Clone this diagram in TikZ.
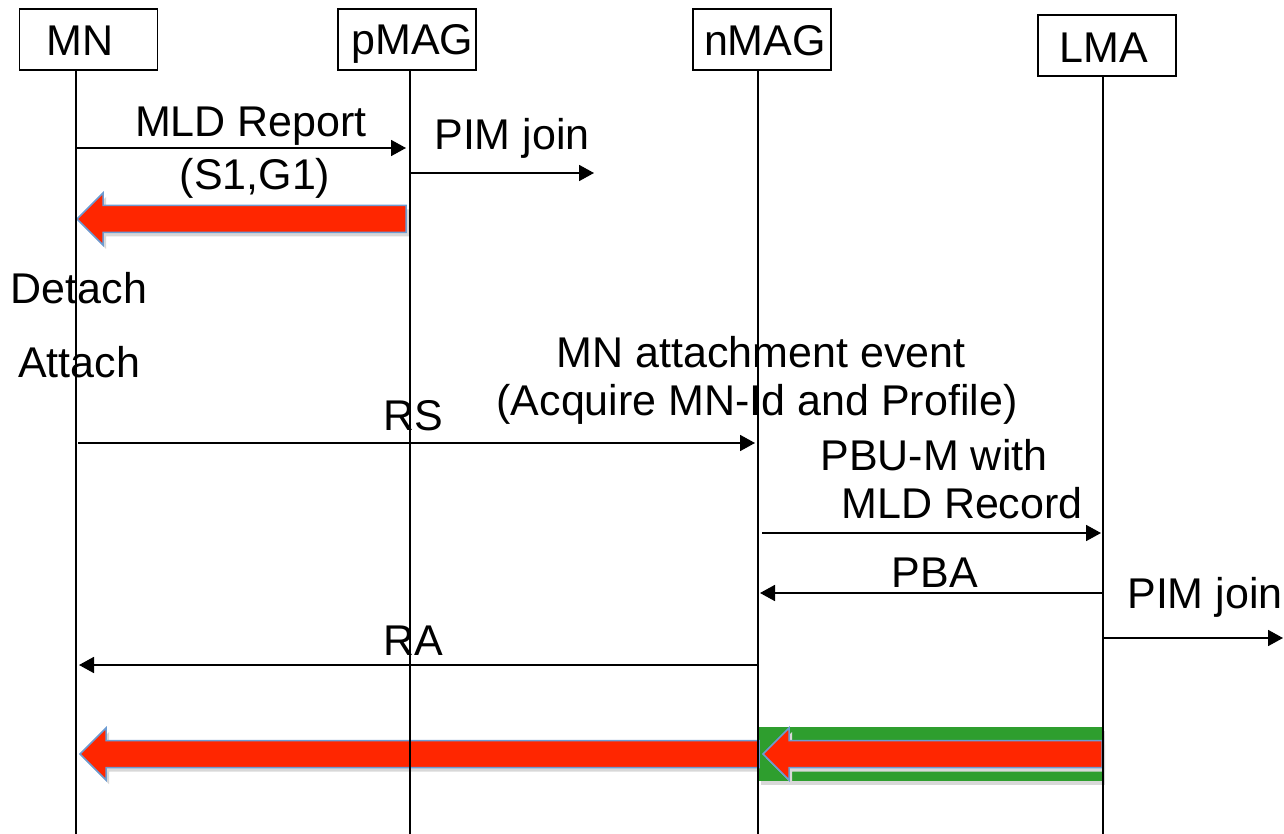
\documentclass[tikz,border=0pt]{standalone}
\usepackage{fontspec}
\setmainfont{Liberation Sans}
\usetikzlibrary{arrows.meta}
\definecolor{arrred}{RGB}{255,38,0}
\definecolor{arrblue}{RGB}{108,155,210}
\definecolor{arrgreen}{RGB}{46,158,46}
\definecolor{shadowgray}{RGB}{216,216,216}
\tikzset{
  entity/.style={draw=black, line width=1.8pt, minimum width=138pt, minimum height=61pt, inner sep=0pt},
  lbl/.style={font=\fontsize{43}{48}\selectfont, anchor=base, inner sep=0pt},
  life/.style={line width=1.4pt},
  msg/.style={line width=1.8pt, -{Triangle[length=15pt,width=16pt]}},
  fat/.style={fill=arrred, draw=arrblue, line width=1.5pt, line join=miter},
  fatshadow/.style={fill=shadowgray},
  greenband/.style={fill=arrgreen},
}
\newcommand{\FatArrowPath}[3]{({#1},{#3}) -- ({#1+26},{#3-26}) -- ({#1+26},{#3-13.5}) -- ({#2},{#3-13.5}) -- ({#2},{#3+13.5}) -- ({#1+26},{#3+13.5}) -- ({#1+26},{#3+26}) -- cycle}
\begin{document}
\begin{tikzpicture}[x=1pt,y=-1pt]
\useasboundingbox (0,0) rectangle (1284,834);

% entity boxes
\node[entity] (mnbox) at (88.5,39.5) {};
\node[entity] (pmagbox) at (407,39.5) {};
\node[entity] (nmagbox) at (762,39.5) {};
\node[entity] (lmabox) at (1107,45.5) {};
\node[lbl] (mnlbl) at (80,56) {MN};
\node[lbl] (pmaglbl) at (412.5,55) {pMAG};
\node[lbl] (nmaglbl) at (765,56) {nMAG};
\node[lbl] (lmalbl) at (1104,63) {LMA};

% big arrows (shadows, band, arrows)
\fill[fatshadow, shift={(3,4)}] \FatArrowPath{77}{406}{219};
\fill[fatshadow, shift={(3,4)}] \FatArrowPath{80}{759}{754};
\fill[shadowgray] (761,731) rectangle (1105,785);
\fill[greenband] (759,727) rectangle (1102,781);
\fill[fatshadow, shift={(3,4)}] \FatArrowPath{763}{1102}{754};
\filldraw[fat] \FatArrowPath{77}{406}{219};
\filldraw[fat] \FatArrowPath{80}{759}{754};
\filldraw[fat] \FatArrowPath{763}{1102}{754};

% lifelines
\coordinate (mnTop) at (76,70);   \coordinate (mnBot) at (76,834);
\coordinate (pmTop) at (410,70);  \coordinate (pmBot) at (410,834);
\coordinate (nmTop) at (758,70);  \coordinate (nmBot) at (758,834);
\coordinate (lmTop) at (1103,76); \coordinate (lmBot) at (1103,834);
\draw[life] (mnTop) -- (mnBot);
\draw[life] (pmTop) -- (pmBot);
\draw[life] (nmTop) -- (nmBot);
\draw[life] (lmTop) -- (lmBot);

% message end points
\coordinate (mlda) at (76,148);   \coordinate (mldb) at (406,148);
\coordinate (pim1a) at (411,173); \coordinate (pim1b) at (594,173);
\coordinate (rsa) at (78,443);    \coordinate (rsb) at (755,443);
\coordinate (pbua) at (762,533);  \coordinate (pbub) at (1101,533);
\coordinate (pbaa) at (1103,593); \coordinate (pbab) at (760,593);
\coordinate (pim2a) at (1104,638);\coordinate (pim2b) at (1283,638);
\coordinate (raa) at (758,665);   \coordinate (rab) at (79,665);

\draw[msg] (mlda) -- (mldb);
\draw[msg] (pim1a) -- (pim1b);
\draw[msg] (rsa) -- (rsb);
\draw[msg] (pbua) -- (pbub);
\draw[msg] (pbaa) -- (pbab);
\draw[msg] (pim2a) -- (pim2b);
\draw[msg] (raa) -- (rab);

% labels
\node[lbl] (t1) at (251,137) {MLD Report};
\node[lbl] (t2) at (255,190) {(S1,G1)};
\node[lbl] (t3) at (512,150) {PIM join};
\node[lbl] (t4) at (79,303) {Detach};
\node[lbl] (t5) at (79,377) {Attach};
\node[lbl] (t6) at (761,367) {MN attachment event};
\node[lbl] (t7) at (757,415) {(Acquire MN-Id and Profile)};
\node[lbl] (t8) at (413,430) {RS};
\node[lbl] (t9) at (934,470) {PBU-M with};
\node[lbl] (t10) at (962,518) {MLD Record};
\node[lbl] (t11) at (935,587) {PBA};
\node[lbl] (t12) at (1205,608) {PIM join};
\node[lbl] (t13) at (413,655) {RA};
\end{tikzpicture}
\end{document}
